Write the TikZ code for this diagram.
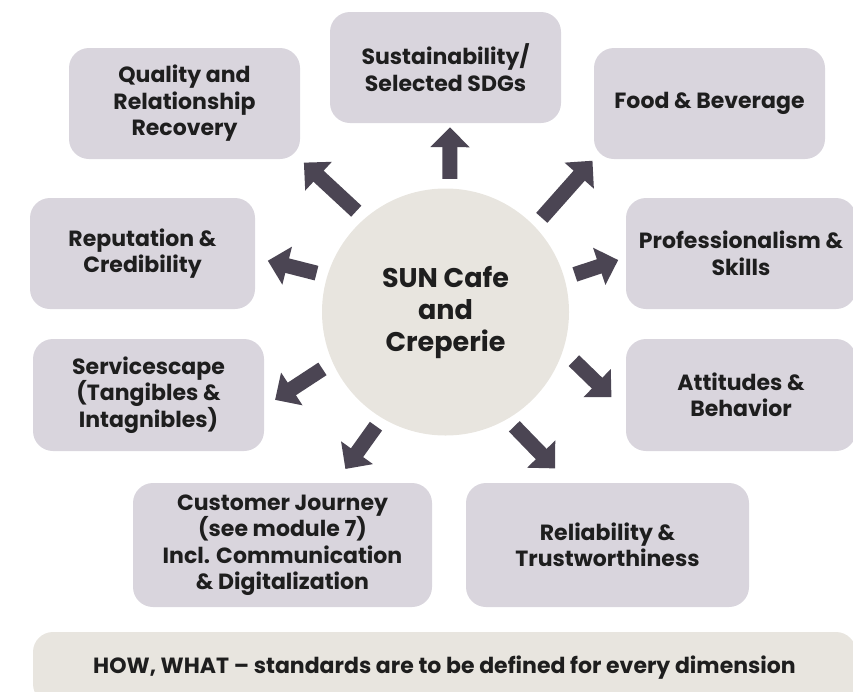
\documentclass[tikz,border=0pt]{standalone}
\usepackage{fontspec}
\setmainfont{Poppins}
\usetikzlibrary{arrows.meta}

\definecolor{boxgrey}{HTML}{D9D5DD}
\definecolor{hubbeige}{HTML}{E8E5DF}
\definecolor{arrowgrey}{HTML}{4B4553}
\definecolor{textblack}{HTML}{1E1E1E}

\tikzset{
  dimbox/.style={rounded corners=20pt, fill=boxgrey, align=center, inner sep=0pt,
    text=textblack, font=\fontsize{22}{26.5}\selectfont\bfseries},
  dimarrow/.style={draw=arrowgrey, line width=15pt,
    -{Triangle[width=38pt,length=20pt]}},
}

\begin{document}
\begin{tikzpicture}[x=1pt,y=-1pt]
  \useasboundingbox (0,0) rectangle (853,691);
  \clip (0,0) rectangle (853,691);

  % hub in the middle
  \node[circle, fill=hubbeige, minimum size=247pt, inner sep=0pt, align=center,
        text=textblack, font=\fontsize{27}{32}\selectfont\bfseries]
        (hub) at (445.5,312) {SUN Cafe\\and\\Creperie};

  % dimensions round the hub
  \node[dimbox, minimum width=231pt, minimum height=111pt] (qual) at (184.5,103.5)
        {Quality and\\Relationship\\Recovery};
  \node[dimbox, minimum width=231pt, minimum height=111pt] (sust) at (445.5,67.5)
        {Sustainability/\\Selected SDGs};
  \node[dimbox, minimum width=231pt, minimum height=111pt] (food) at (709.5,103.5)
        {Food \& Beverage};
  \node[dimbox, minimum width=225pt, minimum height=111pt] (rep)  at (142.5,253.5)
        {Reputation \&\\Credibility};
  \node[dimbox, minimum width=230pt, minimum height=111pt] (prof) at (741,253.5)
        {Professionalism \&\\Skills};
  \node[dimbox, minimum width=231pt, minimum height=112pt] (serv) at (148.5,395)
        {Servicescape\\(Tangibles \&\\Intagnibles)};
  \node[dimbox, minimum width=230pt, minimum height=112pt] (att)  at (741,395)
        {Attitudes \&\\Behavior};
  \node[dimbox, minimum width=299pt, minimum height=124pt] (cust) at (282.5,545)
        {Customer Journey\\(see module 7)\\Incl. Communication\\\& Digitalization};
  \node[dimbox, minimum width=283pt, minimum height=124pt] (rel)  at (607.5,545)
        {Reliability \&\\Trustworthiness};

  % note along the bottom
  \node[dimbox, fill=hubbeige, minimum width=823pt, minimum height=72pt,
        font=\fontsize{22}{26}\selectfont\bfseries] (note) at (444.5,668)
        {HOW, WHAT -- standards are to be defined for every dimension};

  % block arrows
  \draw[dimarrow, shorten <=9.5pt, shorten >=4pt] (hub.88)  -- ([xshift=4.5pt]sust.south);
  \draw[dimarrow, shorten <=11pt,  shorten >=5pt] (hub.131) -- (qual.south east);
  \draw[dimarrow, shorten <=11pt,  shorten >=2pt] (hub.44)  -- (food.south west);
  \draw[dimarrow, shorten <=11pt,  shorten >=13pt] (hub.163) -- ([yshift=-4pt]rep.east);
  \draw[dimarrow, shorten <=11pt,  shorten >=8pt] (hub.16)  -- ([yshift=-4pt]prof.west);
  \draw[dimarrow, shorten <=12pt,  shorten >=13pt] (hub.204) -- ([yshift=-12pt]serv.east);
  \draw[dimarrow, shorten <=15pt,  shorten >=20pt] (hub.-18) -- ([yshift=-16pt]att.west);
  \draw[dimarrow, shorten <=10pt,  shorten >=17pt] (hub.239) -- ([xshift=53pt]cust.north);
  \draw[dimarrow, shorten <=10pt,  shorten >=20pt] (hub.-60) -- ([xshift=-38.5pt]rel.north);
\end{tikzpicture}
\end{document}
